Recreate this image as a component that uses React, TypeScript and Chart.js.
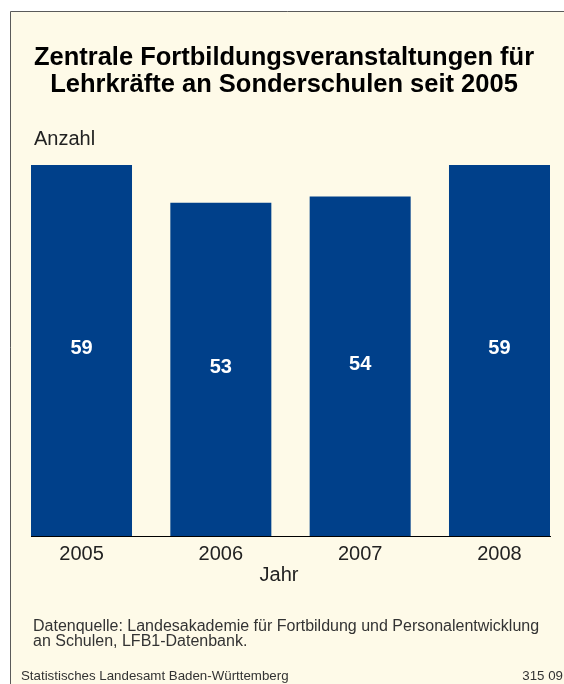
import React, { useEffect, useRef } from "react";
import { Chart, registerables } from "chart.js";

Chart.register(...registerables);

const years: string[] = ["2005", "2006", "2007", "2008"];
const counts: number[] = [59, 53, 54, 59];
const titleLines: string[] = [
  "Zentrale Fortbildungsveranstaltungen für",
  "Lehrkräfte an Sonderschulen seit 2005",
];
const yAxisLabel = "Anzahl";
const xAxisLabel = "Jahr";
const sourceLines: string[] = [
  "Datenquelle: Landesakademie für Fortbildung und Personalentwicklung",
  "an Schulen, LFB1-Datenbank.",
];
const footerLeft = "Statistisches Landesamt Baden-Württemberg";
const footerRight = "315 09";

const FONT = '"Liberation Sans", Arial, Helvetica, sans-serif';
const CREAM = "#FEFAE8";
const BAR = "#00408A";
const TEXT = "#222222";

const decorPlugin = {
  id: "decor",
  beforeDraw(chart: any) {
    const { ctx, width, height } = chart;
    ctx.save();
    ctx.fillStyle = "#ffffff";
    ctx.fillRect(0, 0, width, height);
    ctx.fillStyle = CREAM;
    ctx.fillRect(10, 11, width - 10, height - 11);
    ctx.strokeStyle = "#5a5a5a";
    ctx.lineWidth = 1;
    ctx.beginPath();
    ctx.moveTo(10.5, height);
    ctx.lineTo(10.5, 11.5);
    ctx.lineTo(width, 11.5);
    ctx.stroke();
    ctx.restore();
  },
  afterDraw(chart: any) {
    const { ctx } = chart;
    ctx.save();
    // title
    ctx.fillStyle = "#000000";
    ctx.font = `bold 25.5px ${FONT}`;
    ctx.textAlign = "center";
    ctx.textBaseline = "alphabetic";
    titleLines.forEach((t, i) => ctx.fillText(t, 284, 65 + i * 27));
    // y label
    ctx.fillStyle = TEXT;
    ctx.font = `20px ${FONT}`;
    ctx.textAlign = "left";
    ctx.fillText(yAxisLabel, 34, 145);
    // x label
    ctx.textAlign = "center";
    ctx.font = `20px ${FONT}`;
    ctx.fillText(xAxisLabel, 279, 581);
    // source
    ctx.textAlign = "left";
    ctx.font = `16px ${FONT}`;
    ctx.fillStyle = "#333333";
    sourceLines.forEach((t, i) => ctx.fillText(t, 33, 631 + i * 15));
    // footer
    ctx.font = `13.3px ${FONT}`;
    ctx.fillText(footerLeft, 21, 680);
    ctx.textAlign = "right";
    ctx.fillText(footerRight, 563, 680);
    // value labels
    const meta = chart.getDatasetMeta(0);
    ctx.fillStyle = "#ffffff";
    ctx.font = `bold 20px ${FONT}`;
    ctx.textAlign = "center";
    ctx.textBaseline = "middle";
    meta.data.forEach((bar: any, i: number) => {
      const mid = (bar.y + bar.base) / 2;
      ctx.fillText(String(counts[i]), bar.x, mid - 2);
    });
    ctx.restore();
  },
};

export default function App() {
  const ref = useRef<HTMLCanvasElement | null>(null);
  useEffect(() => {
    if (!ref.current) return;
    const chart = new Chart(ref.current, {
      type: "bar",
      data: {
        datasets: [
          {
            data: counts.map((v, i) => ({ x: i, y: v })),
            backgroundColor: BAR,
            borderWidth: 0,
            barPercentage: 0.725,
            categoryPercentage: 1,
          },
        ],
      },
      options: {
        responsive: false,
        animation: false,
        devicePixelRatio: 1,
        layout: { padding: { left: 31, right: 14, top: 165, bottom: 112 } },
        plugins: {
          legend: { display: false },
          tooltip: { enabled: false },
          title: { display: false },
        },
        scales: {
          x: {
            type: "linear",
            offset: false,
            min: -0.3625,
            max: 3.3625,
            grid: { display: false, drawTicks: false, offset: false },
            border: { display: true, color: "#000000", width: 1 },
            afterBuildTicks: (axis: any) => {
              axis.ticks = years.map((_, i) => ({ value: i }));
            },
            ticks: {
              color: TEXT,
              font: { family: FONT, size: 20 },
              padding: 6,
              maxRotation: 0,
              callback: (v: any) => years[Number(v)] ?? "",
            },
          },
          y: { display: false, min: 0, max: 59 },
        },
      },
      plugins: [decorPlugin],
    } as any);
    return () => chart.destroy();
  }, []);
  return (
    <div style={{ position: "fixed", left: 0, top: 0, width: 564, height: 684 }}>
      <canvas ref={ref} width={564} height={684} style={{ display: "block" }} />
    </div>
  );
}
